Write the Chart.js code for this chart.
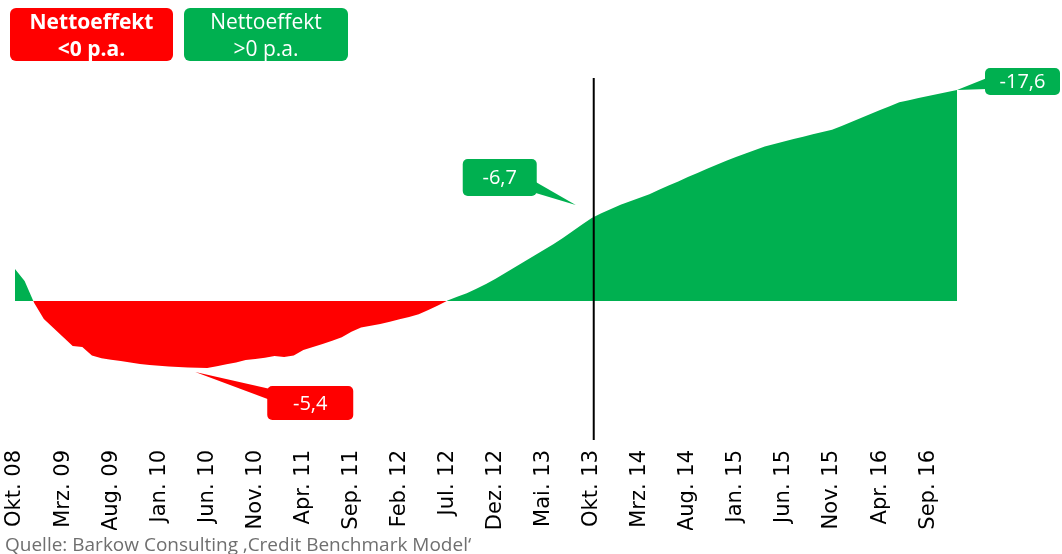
<!DOCTYPE html>
<html>
<head>
<meta charset="utf-8">
<script src="https://cdn.jsdelivr.net/npm/chart.js@4"></script>
<style>
  body { margin: 0; background: #fff; }
  #wrap { position: relative; width: 1062px; height: 554px; }
  #chart { position: absolute; left: 0; top: 0; }
  .leg { position: absolute; top: 8px; height: 53px; border-radius: 6px; color: #fff;
         font-family: 'Open Sans'; font-size: 21px; line-height: 27px; text-align: center; padding-top: 0; }
  #src { position: absolute; left: 5px; top: 535px; font-family: 'Open Sans'; font-size: 19px;
         line-height: 19px; color: #6f6f6f; white-space: nowrap; }
</style>
</head>
<body>
<div id="wrap">
  <canvas id="chart" width="1062" height="554"></canvas>
  <div class="leg" style="left:10px;width:163px;background:#ff0000;font-weight:bold">Nettoeffekt<br>&lt;0 p.a.</div>
  <div class="leg" style="left:184px;width:164px;background:#00b050">Nettoeffekt<br>&gt;0 p.a.</div>
  <div id="src">Quelle: Barkow Consulting ‚Credit Benchmark Model‘</div>
</div>
<script>
// months Okt. 08 .. Dez. 16
const monthNames = ['Jan.', 'Feb.', 'Mrz.', 'Apr.', 'Mai.', 'Jun.', 'Jul.', 'Aug.', 'Sep.', 'Okt.', 'Nov.', 'Dez.']
const startMonth = 9   // Okt.
const startYear = 8
const nMonths = 99

const values = [2.67, 1.67, -0.17, -1.5, -2.25, -3.0, -3.75, -3.83, -4.54, -4.77,
  -4.89, -5.0, -5.12, -5.24, -5.34, -5.4, -5.46, -5.5, -5.53, -5.56,
  -5.58, -5.43, -5.27, -5.13, -4.92, -4.83, -4.73, -4.58, -4.67, -4.54,
  -4.08, -3.83, -3.59, -3.31, -3.01, -2.56, -2.2, -2.06, -1.92, -1.72,
  -1.52, -1.33, -1.11, -0.75, -0.38, 0.04, 0.35, 0.65, 1.03, 1.43,
  1.85, 2.33, 2.81, 3.3, 3.78, 4.26, 4.73, 5.26, 5.82, 6.37,
  6.92, 7.32, 7.68, 8.02, 8.31, 8.6, 8.89, 9.28, 9.62, 9.97,
  10.33, 10.67, 11.02, 11.36, 11.69, 12.01, 12.3, 12.59, 12.87, 13.08,
  13.29, 13.5, 13.7, 13.89, 14.08, 14.27, 14.59, 14.93, 15.26, 15.58,
  15.91, 16.23, 16.56, 16.74, 16.91, 17.08, 17.25, 17.42, 17.58]

// callouts: text and the month they belong to
const calloutText = ['-5,4', '-6,7', '-17,6']
const calloutIndex = [20, 60, 98]
const markerIndex = 60   // Okt. 13 line

const labels = []
for (let i = 0; i < nMonths; i++) {
  const m = (startMonth + i) % 12
  const y = startYear + Math.floor((startMonth + i) / 12)
  labels.push(monthNames[m] + ' ' + String(y).padStart(2, '0'))
}

const GREEN = '#00b050'
const RED = '#ff0000'

function roundRect(ctx, x, y, w, h, r) {
  ctx.beginPath()
  ctx.moveTo(x + r, y)
  ctx.arcTo(x + w, y, x + w, y + h, r)
  ctx.arcTo(x + w, y + h, x, y + h, r)
  ctx.arcTo(x, y + h, x, y, r)
  ctx.arcTo(x, y, x + w, y, r)
  ctx.closePath()
}

// box offsets relative to the data point (tip shift, box rect, wedge base)
const calloutStyle = [
  { color: RED, tip: [-12, 4], box: [60, 18, 86, 34], base: [[63, 21], [63, 32]] },
  { color: GREEN, tip: [-16, -13], box: [-129, -59, 74, 37], base: [[-56, -36], [-56, -25]] },
  { color: GREEN, tip: [0, 0], box: [28, -22, 75, 27], base: [[30, -12], [30, -1]] }
]

const overlay = {
  id: 'overlay',
  afterDatasetsDraw(chart) {
    const ctx = chart.ctx
    const xs = chart.scales.x, ys = chart.scales.y
    // vertical marker line
    const lx = xs.getPixelForValue(markerIndex) + 2
    ctx.save()
    ctx.strokeStyle = '#000'
    ctx.lineWidth = 2
    ctx.beginPath()
    ctx.moveTo(lx, 78)
    ctx.lineTo(lx, chart.chartArea.bottom)
    ctx.stroke()

    for (let k = 0; k < calloutText.length; k++) {
      const st = calloutStyle[k]
      const px = xs.getPixelForValue(calloutIndex[k])
      const py = ys.getPixelForValue(values[calloutIndex[k]])
      const tx = px + st.tip[0], ty = py + st.tip[1]
      ctx.fillStyle = st.color
      ctx.beginPath()
      ctx.moveTo(tx, ty)
      ctx.lineTo(px + st.base[0][0], py + st.base[0][1])
      ctx.lineTo(px + st.base[1][0], py + st.base[1][1])
      ctx.closePath()
      ctx.fill()
      const bx = px + st.box[0], by = py + st.box[1]
      roundRect(ctx, bx, by, st.box[2], st.box[3], 5)
      ctx.fill()
      ctx.fillStyle = '#fff'
      ctx.font = '20px "Open Sans"'
      ctx.textAlign = 'center'
      ctx.textBaseline = 'middle'
      ctx.fillText(calloutText[k], bx + st.box[2] / 2, by + st.box[3] / 2 + 1)
    }
    ctx.restore()
  }
}

new Chart(document.getElementById('chart'), {
  type: 'line',
  data: {
    labels: labels,
    datasets: [{
      data: values,
      borderWidth: 0,
      borderColor: 'rgba(0,0,0,0)',
      pointRadius: 0,
      tension: 0,
      fill: { target: 'origin', above: GREEN, below: RED }
    }]
  },
  options: {
    responsive: false,
    animation: false,
    devicePixelRatio: 1,
    layout: { padding: { left: 15, right: 105, top: 80, bottom: 24 } },
    plugins: { legend: { display: false }, tooltip: { enabled: false } },
    scales: {
      x: {
        offset: false,
        grid: { display: false },
        border: { display: false },
        afterFit: (s) => { s.height = 90 },
        ticks: {
          autoSkip: false,
          minRotation: 90,
          maxRotation: 90,
          padding: 2,
          color: '#000',
          font: { family: 'DejaVu Sans', size: 21 },
          callback: function (v, i) { return i % 5 === 0 ? this.getLabelForValue(v) : '' }
        }
      },
      y: { display: false, min: -11.58, max: 18.42 }
    }
  },
  plugins: [overlay]
})
</script>
</body>
</html>
